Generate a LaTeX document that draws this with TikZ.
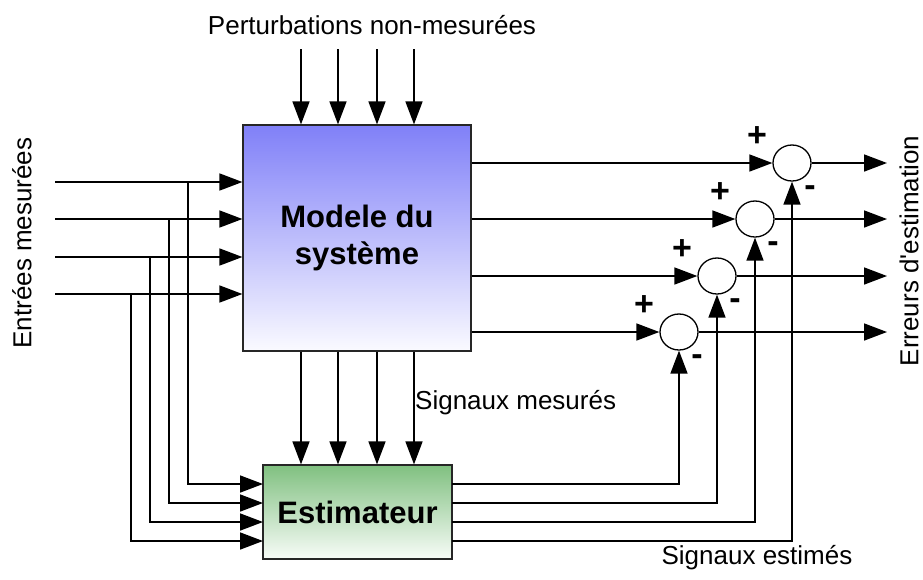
\documentclass[tikz,border=0pt]{standalone}
\usepackage{fontspec}
\setmainfont{Liberation Sans}
\newfontfamily\plainsans{Liberation Sans}
\usetikzlibrary{arrows.meta,calc,shapes.geometric}
\begin{document}
\begin{tikzpicture}[x=1pt,y=-1pt,
  conn/.style={line width=1.6pt,-{Triangle[length=23pt,width=17pt]}},
  wire/.style={line width=1.6pt},
  sumc/.style={ellipse,draw,line width=1.3pt,minimum width=38pt,minimum height=36pt,inner sep=0pt,fill=white},
  lbl/.style={font=\fontsize{26}{30}\selectfont,inner sep=0pt},
  sgn/.style={font=\fontsize{34}{36}\selectfont\bfseries,inner sep=0pt},
  blk/.style={draw=black!85,line width=1.2pt,inner sep=0pt,align=center,font=\fontsize{31}{37}\selectfont\bfseries}
  ]
\useasboundingbox (0,0) rectangle (923,579);

% blocks
\node[blk,minimum width=228pt,minimum height=226pt,top color={rgb,255:red,128;green,128;blue,248},bottom color={rgb,255:red,250;green,250;blue,255}] (m) at (357,238) {Modele du\\système};
\node[blk,minimum width=189pt,minimum height=94pt,top color={rgb,255:red,128;green,192;blue,128},bottom color={rgb,255:red,248;green,252;blue,248}] (e) at (357.5,512) {Estimateur};

% summing junctions
\node[sumc] (c1) at (792,163) {};
\node[sumc] (c2) at (755,219) {};
\node[sumc] (c3) at (717,276) {};
\node[sumc] (c4) at (679,332) {};

% signs
\foreach \c in {c1,c2,c3,c4}{
  \node[sgn] at ($(\c.center)+(-35,-26)$) {+};
  \node[sgn] at ($(\c.center)+(18,28)$) {-};
}

% perturbations
\foreach \i/\x in {1/301,2/338,3/377,4/414}{
  \coordinate (p\i) at (\x,49);
  \draw[conn] (p\i) -- (p\i |- m.north);
  \draw[conn] (p\i |- m.south) -- (p\i |- e.north);
}

% measured inputs
\coordinate (i1) at (55,182);
\coordinate (i2) at (55,219);
\coordinate (i3) at (55,257);
\coordinate (i4) at (55,294);
\foreach \i in {1,2,3,4}{
  \draw[conn] (i\i) -- (i\i -| m.west);
}
\coordinate (b1) at (188,182);
\coordinate (b2) at (169,219);
\coordinate (b3) at (150,257);
\coordinate (b4) at (131,294);
\coordinate (ei1) at (263,484);
\coordinate (ei2) at (263,503);
\coordinate (ei3) at (263,522);
\coordinate (ei4) at (263,541);
\foreach \i in {1,2,3,4}{
  \draw[conn] (b\i) |- (ei\i);
}

% model outputs to sums
\foreach \c in {c1,c2,c3,c4}{
  \draw[conn] (m.east |- \c) -- (\c.west);
  \coordinate (o\c) at (887,0);
  \draw[conn] (\c.east) -- (o\c |- \c);
}

% estimator outputs
\coordinate (eo1) at (452,484);
\coordinate (eo2) at (452,503);
\coordinate (eo3) at (452,522);
\coordinate (eo4) at (452,541);
\draw[conn] (eo1) -| (c4.south);
\draw[conn] (eo2) -| (c3.south);
\draw[conn] (eo3) -| (c2.south);
\draw[conn] (eo4) -| (c1.south);

% labels
\node[lbl] at (372,25) {Perturbations non-mesurées};
\node[lbl,rotate=90] at (22,243) {Entrées mesurées};
\node[lbl,rotate=90] at (909,251) {\plainsans Erreurs d'estimation};
\node[lbl,anchor=west] at (415,403) {Signaux mesurés};
\node[lbl] at (757,558) {Signaux estimés};
\end{tikzpicture}
\end{document}
